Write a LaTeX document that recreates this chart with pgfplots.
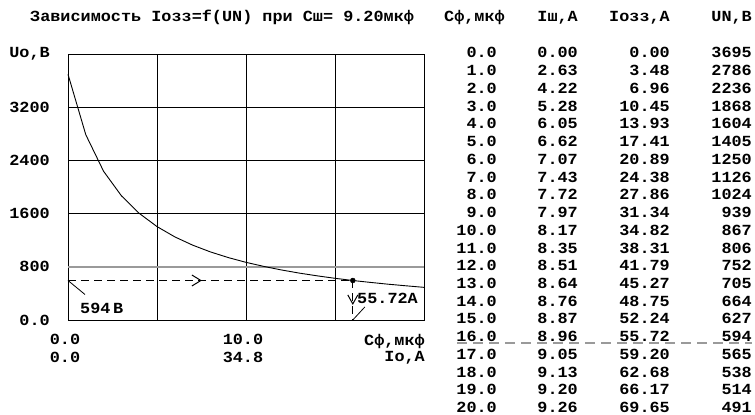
\documentclass[border=0pt]{standalone}
\usepackage{fontspec}
\setmainfont{Liberation Mono}[FakeStretch=1.09]
\usepackage{pgfplots}
\pgfplotsset{compat=1.18}
\usetikzlibrary{arrows.meta,decorations.markings}
\newcommand\f{\fontsize{15.5}{17.8}\selectfont\bfseries}
\definecolor{refgray}{HTML}{9A9A9A}

\begin{document}
\begin{tikzpicture}
\path[use as bounding box] (0bp,0bp) rectangle (755bp,415bp);

\begin{axis}[
  at={(68bp,95bp)}, anchor=south west,
  scale only axis, width=356bp, height=266bp,
  xmin=0, xmax=20, ymin=0, ymax=4000,
  xtick={0,5,10,15,20},
  xticklabels={{0.0\\0.0},{},{10.0\\34.8},{},{}},
  ytick={0,800,1600,2400,3200,4000},
  yticklabels={0.0,800,1600,2400,3200,{Uo,B}},
  grid=major,
  grid style={black, line width=0.9bp},
  axis line style={black, line width=0.9bp},
  major tick length=0pt,
  tick label style={font=\f, inner sep=0pt},
  xticklabel style={align=center, anchor=north, yshift=-14bp, xshift=-3bp},
  yticklabel style={anchor=east, xshift=-18bp},
  clip=false,
]
\addplot[refgray, line width=2.2bp] coordinates {(0,800) (20,800)};
\addplot[black, line width=0.9bp] coordinates {
(0,3695) (1,2786) (2,2236) (3,1868) (4,1604) (5,1405) (6,1250) (7,1126)
(8,1024) (9,939) (10,867) (11,806) (12,752) (13,705) (14,664) (15,627)
(16,594) (17,565) (18,538) (19,514) (20,491)};
\addplot[black, line width=0.9bp, dash pattern=on 8bp off 5bp,
  postaction={decorate}, decoration={markings,
  mark=at position 0.47 with {\arrow[solid]{Straight Barb[length=9bp,width=11bp,line width=1bp]}}}]
  coordinates {(0,594) (16,594)};
\addplot[black, line width=0.9bp, dash pattern=on 8bp off 5bp,
  postaction={decorate}, decoration={markings,
  mark=at position 0.62 with {\arrow[solid]{Straight Barb[length=9bp,width=10bp,line width=1bp]}}}]
  coordinates {(16,594) (16,0)};
\addplot[black, only marks, mark=*, mark size=2.5bp] coordinates {(16,594)};
\draw[black, line width=0.8bp] (axis cs:0,594) -- ++(17bp,-14bp);
\draw[black, line width=0.8bp] (axis cs:16,0) -- ++(12bp,13bp);
\end{axis}

% axis annotations
\node[anchor=west, inner sep=0pt, font=\f] at (80bp,107bp) {594\,B};
\node[anchor=west, inner sep=0pt, font=\f] at (357bp,117bp) {55.72A};
\node[anchor=north east, inner sep=0pt, font=\f, align=right] at (425bp,81bp) {Cф,мкф\\[-1.3bp]Io,A};

% title
\node[anchor=west, inner sep=0pt, font=\f] at (30bp,397.5bp) {Зависимость Iозз=f(UN) при Cш= 9.20мкф};

% table headers
\node[anchor=east, inner sep=0pt, font=\f] at (505bp,397.5bp) {Cф,мкф};
\node[anchor=east, inner sep=0pt, font=\f] at (578bp,397.5bp) {Iш,A};
\node[anchor=east, inner sep=0pt, font=\f] at (670bp,397.5bp) {Iозз,A};
\node[anchor=east, inner sep=0pt, font=\f] at (752bp,397.5bp) {UN,B};

% table columns
\node[anchor=base east, inner sep=0pt, font=\f] at (497bp,357bp) {\begin{tabular}[t]{@{}r@{}}
0.0\\1.0\\2.0\\3.0\\4.0\\5.0\\6.0\\7.0\\8.0\\9.0\\10.0\\11.0\\12.0\\13.0\\14.0\\15.0\\16.0\\17.0\\18.0\\19.0\\20.0
\end{tabular}};
\node[anchor=base east, inner sep=0pt, font=\f] at (578bp,357bp) {\begin{tabular}[t]{@{}r@{}}
0.00\\2.63\\4.22\\5.28\\6.05\\6.62\\7.07\\7.43\\7.72\\7.97\\8.17\\8.35\\8.51\\8.64\\8.76\\8.87\\8.96\\9.05\\9.13\\9.20\\9.26
\end{tabular}};
\node[anchor=base east, inner sep=0pt, font=\f] at (670bp,357bp) {\begin{tabular}[t]{@{}r@{}}
0.00\\3.48\\6.96\\10.45\\13.93\\17.41\\20.89\\24.38\\27.86\\31.34\\34.82\\38.31\\41.79\\45.27\\48.75\\52.24\\55.72\\59.20\\62.68\\66.17\\69.65
\end{tabular}};
\node[anchor=base east, inner sep=0pt, font=\f] at (752bp,357bp) {\begin{tabular}[t]{@{}r@{}}
3695\\2786\\2236\\1868\\1604\\1405\\1250\\1126\\1024\\939\\867\\806\\752\\705\\664\\627\\594\\565\\538\\514\\491
\end{tabular}};

\draw[refgray, line width=1.3bp, dash pattern=on 10bp off 6bp] (457bp,72bp) -- (752bp,72bp);
\end{tikzpicture}
\end{document}
